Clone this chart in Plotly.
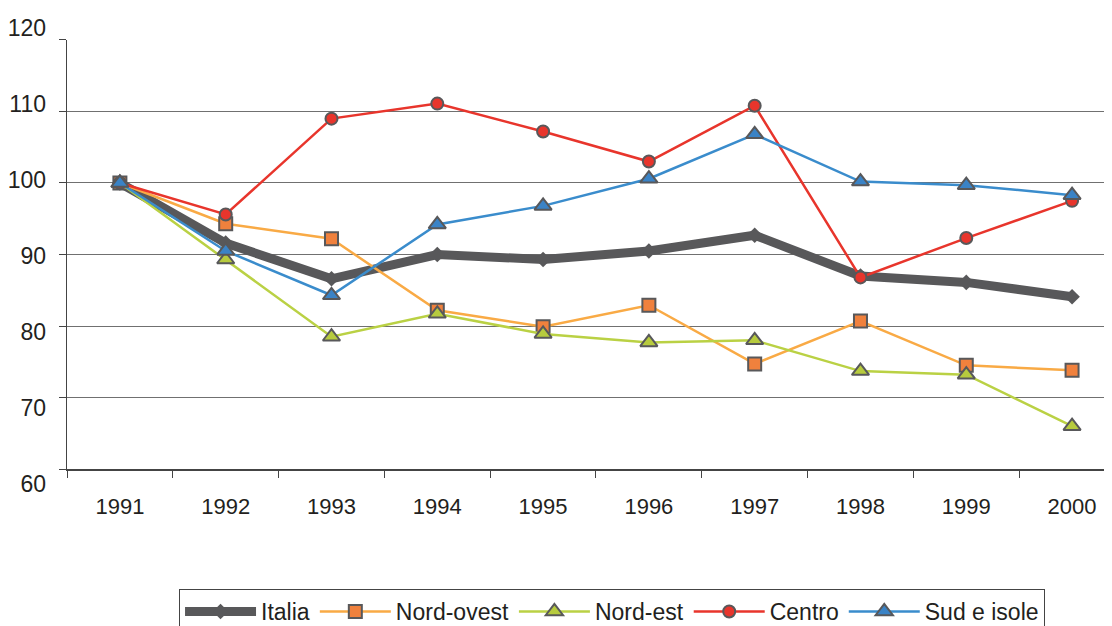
import plotly.graph_objects as go

# Data
years = ["1991", "1992", "1993", "1994", "1995", "1996", "1997", "1998", "1999", "2000"]
italia = [100, 91.6, 86.6, 90.0, 89.3, 90.5, 92.7, 87.0, 86.1, 84.1]
nord_ovest = [100, 94.3, 92.2, 82.2, 79.9, 82.9, 74.7, 80.7, 74.5, 73.8]
nord_est = [100, 89.3, 78.5, 81.7, 78.9, 77.7, 78.0, 73.7, 73.2, 66.0]
centro = [100, 95.6, 109.0, 111.1, 107.2, 103.0, 110.8, 86.8, 92.3, 97.5]
sud_isole = [100, 90.5, 84.3, 94.2, 96.8, 100.6, 106.8, 100.2, 99.7, 98.3]
y_ticks = [60, 70, 80, 90, 100, 110, 120]

edge = "#58585a"

series = [
    ("Italia", italia, "#58585a", 9, "diamond", "#58585a", 12),
    ("Nord-ovest", nord_ovest, "#f9aa45", 2.5, "square", "#f0813d", 13),
    ("Nord-est", nord_est, "#bad144", 2.5, "triangle-up", "#b7cb3e", 15),
    ("Centro", centro, "#e8352c", 2.5, "circle", "#e8352c", 12),
    ("Sud e isole", sud_isole, "#3a8ccc", 2.5, "triangle-up", "#3a83c6", 15),
]

fig = go.Figure()

# invisible axis only used to place the y tick labels like the original
fig.add_trace(
    go.Scatter(x=[years[0]], y=[90], yaxis="y2", mode="markers",
               marker=dict(opacity=0), showlegend=False, hoverinfo="skip")
)

for name, vals, lcolor, lwidth, symbol, mcolor, msize in series:
    fig.add_trace(
        go.Scatter(
            x=years,
            y=vals,
            mode="lines+markers",
            name=name,
            line=dict(color=lcolor, width=lwidth),
            marker=dict(
                symbol=symbol,
                size=msize,
                color=mcolor,
                line=dict(color=edge, width=0 if name == "Italia" else 2),
            ),
        )
    )

font = "Liberation Sans, Arial, sans-serif"

fig.update_layout(
    width=1112,
    height=626,
    # page body adds 8px, margins are set with that in mind
    margin=dict(l=59, r=0, t=12, b=139),
    paper_bgcolor="white",
    plot_bgcolor="rgba(0,0,0,0)",
    font=dict(family=font, size=22, color="#231f20"),
    xaxis=dict(
        type="category",
        range=[-0.5, 9.453],
        automargin=False,
        showgrid=False,
        showline=True,
        linecolor="#444",
        linewidth=1.5,
        zeroline=False,
        ticks="outside",
        tickson="boundaries",
        ticklen=7,
        tickcolor="#444",
        ticklabelstandoff=17,
        tickfont=dict(size=22),
    ),
    yaxis=dict(
        domain=[0.05263, 0.95789],
        range=[60, 120],
        tickvals=y_ticks,
        automargin=False,
        showticklabels=False,
        showgrid=True,
        gridcolor="#707070",
        gridwidth=1,
        showline=True,
        linecolor="#444",
        linewidth=1,
        ticks="outside",
        ticklen=7,
        tickcolor="#444",
        zeroline=False,
    ),
    yaxis2=dict(
        domain=[0, 1],
        range=[58.69, 121.05],
        tickvals=y_ticks,
        anchor="free",
        position=0,
        automargin=False,
        showgrid=False,
        showline=False,
        zeroline=False,
        ticks="",
        ticklabelstandoff=21,
        tickfont=dict(size=23),
    ),
    legend=dict(
        orientation="h",
        x=0.5176,
        xanchor="center",
        y=-0.2,
        yanchor="top",
        bordercolor="#444",
        borderwidth=1,
        font=dict(size=23),
        itemwidth=71,
        tracegroupgap=0,
    ),
)

fig.write_html("out.html")
